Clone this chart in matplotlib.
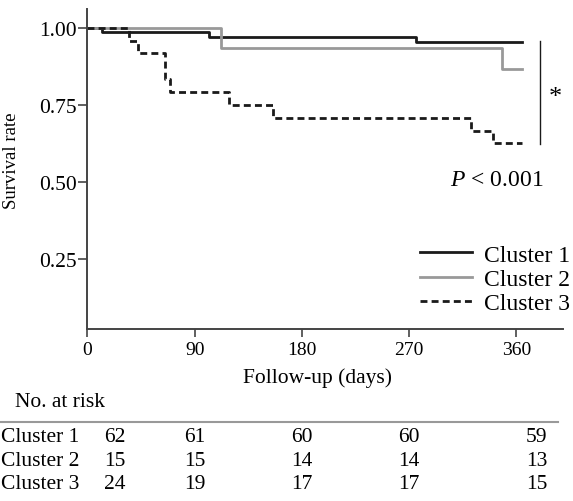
import matplotlib
matplotlib.use("Agg")
import matplotlib.pyplot as plt
import matplotlib.transforms as mtransforms

plt.rcParams['font.family'] = ['Liberation Serif', 'DejaVu Serif']
plt.rcParams['mathtext.fontset'] = 'custom'
plt.rcParams['mathtext.rm'] = 'Liberation Serif'
plt.rcParams['mathtext.it'] = 'Liberation Serif:italic'

# Kaplan-Meier curves (event times in days, survival after event)
c1_time = [0, 12, 102, 276, 365]
c1_surv = [1.0, 0.984, 0.968, 0.952, 0.952]
c2_time = [0, 112, 348, 365]
c2_surv = [1.0, 0.933, 0.867, 0.867]
c3_time = [0, 35, 42, 65, 69, 119, 156, 322, 340, 365]
c3_surv = [1.0, 0.958, 0.917, 0.833, 0.792, 0.750, 0.708, 0.667, 0.625, 0.625]

labels = ['Cluster 1', 'Cluster 2', 'Cluster 3']
x_ticks = [0, 90, 180, 270, 360]
y_ticks = [0.25, 0.50, 0.75, 1.00]

# numbers at risk
risk_c1 = [62, 61, 60, 60, 59]
risk_c2 = [15, 15, 14, 14, 13]
risk_c3 = [24, 19, 17, 17, 15]
risk_cols = [23, 90, 180, 270, 377]

fig = plt.figure(figsize=(5.73, 5.02), dpi=100)
ax = fig.add_axes([0.1527, 0.3426, 0.8298, 0.6375])

ax.step(c1_time, c1_surv, where='post', color='#1a1a1a', lw=2.0, label=labels[0])
ax.step(c2_time, c2_surv, where='post', color='#999999', lw=2.0, label=labels[1])
ax.step(c3_time, c3_surv, where='post', color='#1a1a1a', lw=2.0, dashes=(2.5, 1.5), label=labels[2])

ax.set_xlim(0, 399)
ax.set_ylim(0.025, 1.06)
ax.set_xticks(x_ticks)
ax.set_yticks(y_ticks)
ax.set_yticklabels(['%.2f' % v for v in y_ticks])
ax.tick_params(axis='y', labelsize=15.5, length=6.5, width=1.2, color='#444444', pad=1)
ax.tick_params(axis='x', labelsize=14, length=5.8, width=1.2, color='#444444', pad=3)
for s in ['top', 'right']:
    ax.spines[s].set_visible(False)
for s in ['left', 'bottom']:
    ax.spines[s].set_color('#444444')
    ax.spines[s].set_linewidth(1.4)

ax.set_xlabel('Follow-up (days)', fontsize=15.5)
ax.xaxis.set_label_coords(0.483, -0.12)
ax.set_ylabel('Survival rate', fontsize=13.5)
ax.yaxis.set_label_coords(-0.142, 0.53)

# significance bracket
ax.plot([380, 380], [0.957, 0.623], color='#1a1a1a', lw=1.0)
ax.text(393, 0.775, '*', fontsize=19, ha='center', va='center')
ax.text(343, 0.509, r'$P$ < 0.001', fontsize=17, ha='center', va='center')

leg = ax.legend(loc='upper left', bbox_to_anchor=(420 / 573, 1 - 245 / 502),
                bbox_transform=fig.transFigure, frameon=False, fontsize=17,
                handlelength=2.2, handletextpad=0.5, labelspacing=0.12,
                borderpad=0, borderaxespad=0)

# number at risk table
tr = mtransforms.blended_transform_factory(ax.transData, fig.transFigure)
fig.text(15 / 573, 1 - 403 / 502, 'No. at risk', fontsize=15.5, ha='left', va='center')
fig.add_artist(plt.Line2D([0, 558 / 573], [1 - 423 / 502, 1 - 423 / 502],
                          transform=fig.transFigure, color='#999999', lw=1.5))
row_y = [438, 462, 485]
for lab, risk, ry in zip(labels, [risk_c1, risk_c2, risk_c3], row_y):
    fig.text(1 / 573, 1 - ry / 502, lab, fontsize=15.5, ha='left', va='center')
    for cx, n in zip(risk_cols, risk):
        ax.text(cx, 1 - ry / 502, str(n), transform=tr, fontsize=15.5,
                ha='center', va='center', clip_on=False)

fig.savefig('out.png', dpi=100)
